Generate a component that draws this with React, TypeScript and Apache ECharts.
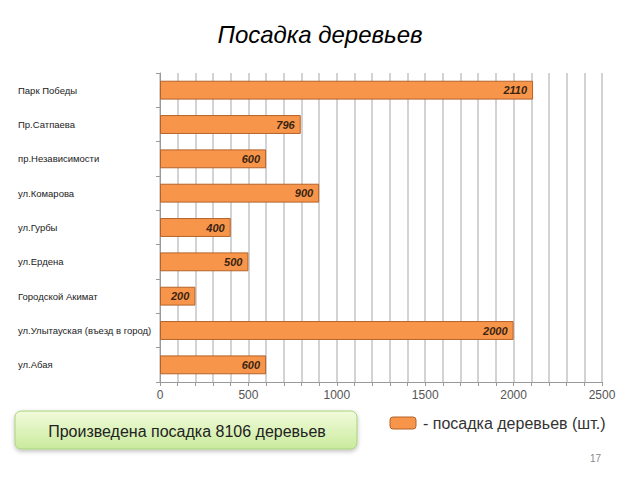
import React, { useEffect, useRef } from "react";
import * as echarts from "echarts";

const categories = [
  "Парк Победы",
  "Пр.Сатпаева",
  "пр.Независимости",
  "ул.Комарова",
  "ул.Гурбы",
  "ул.Ердена",
  "Городской Акимат",
  "ул.Улытауская (въезд в город)",
  "ул.Абая",
];
const plantedValues = [2110, 796, 600, 900, 400, 500, 200, 2000, 600];
const axisTickLabels = [0, 500, 1000, 1500, 2000, 2500];
const titleText = "Посадка деревьев";
const boxText = "Произведена посадка 8106 деревьев";
const legendText = "- посадка деревьев (шт.)";
const pageNumber = "17";

export default function App() {
  const ref = useRef<HTMLDivElement>(null);
  useEffect(() => {
    if (!ref.current) return;
    const chart = echarts.init(ref.current, null, { renderer: "svg" });
    chart.setOption({
      animation: false,
      backgroundColor: "#ffffff",
      title: {
        text: titleText,
        left: "center",
        top: 17,
        textStyle: {
          fontFamily: "Liberation Sans, Arial, sans-serif",
          fontStyle: "italic",
          fontWeight: "normal",
          fontSize: 24,
          color: "#000000",
        },
      },
      grid: { left: 160, right: 38, top: 73, bottom: 98, containLabel: false },
      xAxis: {
        type: "value",
        min: 0,
        max: 2500,
        interval: 100,
        axisLine: { show: true, lineStyle: { color: "#9a9a9a", width: 1 } },
        axisTick: { show: true, length: 4, lineStyle: { color: "#9a9a9a" } },
        splitLine: { show: true, lineStyle: { color: "#c4c4c4", width: 1.5 } },
        axisLabel: {
          color: "#555555",
          fontSize: 12,
          fontFamily: "Liberation Sans, Arial, sans-serif",
          margin: 7,
          formatter: (v: number) => (axisTickLabels.includes(v) ? String(v) : ""),
        },
      },
      yAxis: {
        type: "category",
        data: categories,
        inverse: true,
        axisLine: { show: true, lineStyle: { color: "#9a9a9a", width: 1 } },
        axisTick: { show: true, length: 4, lineStyle: { color: "#9a9a9a" } },
        axisLabel: {
          align: "left",
          margin: 142,
          color: "#222222",
          fontSize: 9.5,
          fontFamily: "Liberation Sans, Arial, sans-serif",
        },
      },
      series: [
        {
          type: "bar",
          data: plantedValues,
          barWidth: "55%",
          itemStyle: {
            color: "#F7964A",
            borderColor: "#B5622A",
            borderWidth: 1,
          },
          label: {
            show: true,
            position: "insideRight",
            offset: [-1, 0],
            color: "#3a2412",
            fontStyle: "italic",
            fontWeight: "bold",
            fontSize: 11,
            fontFamily: "Liberation Sans, Arial, sans-serif",
          },
        },
      ],
      graphic: [
        {
          type: "rect",
          shape: { x: 15, y: 411, width: 342, height: 38, r: 6 },
          style: {
            fill: new echarts.graphic.LinearGradient(0, 0, 0, 1, [
              { offset: 0, color: "#f2fbdc" },
              { offset: 1, color: "#c9eb9c" },
            ]),
            stroke: "#a9d37c",
            lineWidth: 1,
            shadowBlur: 4,
            shadowOffsetY: 2,
            shadowColor: "rgba(0,0,0,0.25)",
          },
        },
        {
          type: "text",
          x: 187,
          y: 431,
          style: {
            text: boxText,
            align: "center",
            verticalAlign: "middle",
            fontSize: 16,
            fontFamily: "Liberation Sans, Arial, sans-serif",
            fill: "#222222",
          },
        },
        {
          type: "rect",
          shape: { x: 390, y: 417, width: 26, height: 12, r: 3 },
          style: { fill: "#F7964A", stroke: "#B5622A", lineWidth: 1 },
        },
        {
          type: "text",
          x: 423,
          y: 423,
          style: {
            text: legendText,
            align: "left",
            verticalAlign: "middle",
            fontSize: 16,
            fontFamily: "Liberation Sans, Arial, sans-serif",
            fill: "#333333",
          },
        },
        {
          type: "text",
          x: 601,
          y: 458,
          style: {
            text: pageNumber,
            align: "right",
            verticalAlign: "middle",
            fontSize: 10,
            fontFamily: "Liberation Sans, Arial, sans-serif",
            fill: "#888888",
          },
        },
      ],
    });
    return () => chart.dispose();
  }, []);
  return (
    <div
      ref={ref}
      style={{ position: "fixed", left: 0, top: 0, width: 640, height: 480 }}
    />
  );
}
